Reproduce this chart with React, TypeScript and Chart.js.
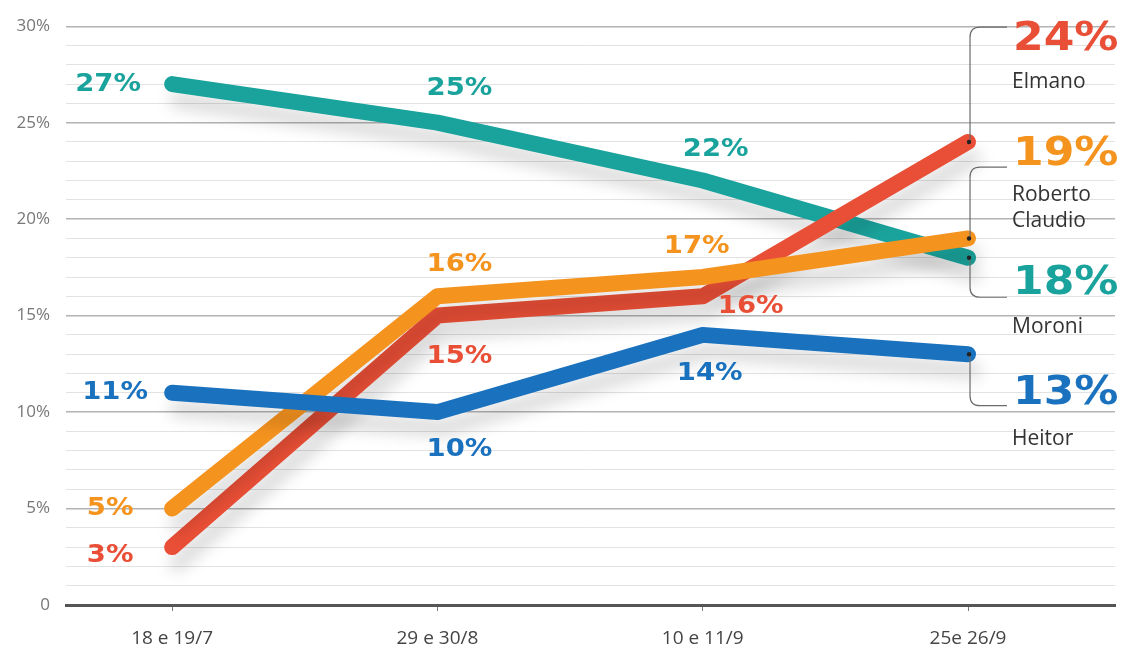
import React, { useEffect, useRef } from "react";
import { Chart, registerables } from "chart.js";

Chart.register(...registerables);

const categories = ["18 e 19/7", "29 e 30/8", "10 e 11/9", "25e 26/9"];
const moroni = [27, 25, 22, 18];
const elmano = [3, 15, 16, 24];
const roberto = [5, 16, 17, 19];
const heitor = [11, 10, 14, 13];
const yTickValues = [0, 5, 10, 15, 20, 25, 30];

const TEAL = "#1aa39c";
const RED = "#e94f36";
const ORANGE = "#f5931f";
const BLUE = "#1a72bf";

const series = [
  {
    name: ["Elmano"],
    data: elmano,
    color: RED,
    order: 2,
    offsets: [[-62, 8], [22, 41], [48, 10], null],
    callout: { conn: 29.95, big: 29.27, names: [27.1] },
  },
  {
    name: ["Roberto", "Claudio"],
    data: roberto,
    color: ORANGE,
    order: 1,
    offsets: [[-62, 0], [22, -32], [-6, -31], null],
    callout: { conn: 22.7, big: 23.34, names: [21.27, 19.88] },
  },
  {
    name: ["Moroni"],
    data: moroni,
    color: TEAL,
    order: 3,
    offsets: [[-64, 0], [22, -34], [13, -31], null],
    callout: { conn: 15.95, big: 16.62, names: [14.4] },
  },
  {
    name: ["Heitor"],
    data: heitor,
    color: BLUE,
    order: 0,
    offsets: [[-57, 0], [22, 37], [7, 39], null],
    callout: { conn: 10.33, big: 10.94, names: [8.62] },
  },
];

function drawText(
  c: CanvasRenderingContext2D,
  s: string,
  x: number,
  y: number,
  font: string,
  color: string,
  sx: number,
  align: CanvasTextAlign
) {
  c.save();
  c.translate(x, y);
  c.scale(sx, 1);
  c.font = font;
  c.fillStyle = color;
  c.textAlign = align;
  c.textBaseline = "middle";
  c.fillText(s, 0, 0);
  c.restore();
}

const annotPlugin = {
  id: "annot",
  beforeDatasetsDraw(chart: any) {
    const c = chart.ctx;
    c.save();
    c.shadowColor = "rgba(0,0,0,0.15)";
    c.shadowBlur = 16;
    c.shadowOffsetX = 5;
    c.shadowOffsetY = 16;
  },
  afterDatasetsDraw(chart: any) {
    const c: CanvasRenderingContext2D = chart.ctx;
    c.restore();
    const xs = chart.scales.x;
    const ys = chart.scales.y;
    const labelFont = 'bold 25px "DejaVu Sans"';
    const bigFont = 'bold 39px "DejaVu Sans"';
    const nameFont = '21px "Open Sans"';
    series.forEach((s) => {
      s.data.forEach((v, i) => {
        const off = s.offsets[i];
        if (!off) return;
        const px = xs.getPixelForValue(i);
        const py = ys.getPixelForValue(v);
        drawText(c, v + "%", px + off[0], py + off[1], labelFont, s.color, 1.1, "center");
      });
      const last = s.data.length - 1;
      const x0 = xs.getPixelForValue(last) + 2;
      const y0 = ys.getPixelForValue(s.data[last]);
      const yc = ys.getPixelForValue(s.callout.conn);
      const r = 10;
      const dir = yc < y0 ? 1 : -1;
      c.save();
      c.strokeStyle = "#6b6b6b";
      c.lineWidth = 1.2;
      c.beginPath();
      c.moveTo(x0, y0);
      c.lineTo(x0, yc + dir * r);
      c.quadraticCurveTo(x0, yc, x0 + r, yc);
      c.lineTo(x0 + 37, yc);
      c.stroke();
      c.fillStyle = "#222";
      c.beginPath();
      c.arc(x0 - 1, y0, 2.2, 0, Math.PI * 2);
      c.fill();
      c.restore();
      const lx = xs.getPixelForValue(last) + 45;
      drawText(c, s.data[last] + "%", lx, ys.getPixelForValue(s.callout.big), bigFont, s.color, 1.13, "left");
      s.name.forEach((n, k) => {
        drawText(c, n, lx - 1, ys.getPixelForValue(s.callout.names[k]), nameFont, "#333", 1, "left");
      });
    });
  },
};

export default function App() {
  const ref = useRef<HTMLCanvasElement>(null);
  useEffect(() => {
    document.body.style.margin = "0";
    const canvas = ref.current!;
    const chart = new Chart(canvas, {
      type: "line",
      data: {
        datasets: series.map((s) => ({
          label: s.name.join(" "),
          data: s.data.map((v, i) => ({ x: i, y: v })),
          borderColor: s.color,
          backgroundColor: s.color,
          borderWidth: 16,
          borderCapStyle: "round" as const,
          borderJoinStyle: "round" as const,
          pointRadius: 0,
          tension: 0,
          order: s.order,
          clip: false as any,
        })),
      },
      options: {
        responsive: false,
        animation: false,
        layout: { padding: { top: 24, right: 13, left: 0, bottom: 0 } },
        plugins: {
          legend: { display: false },
          tooltip: { enabled: false },
        },
        scales: {
          x: {
            type: "linear",
            min: -0.4,
            max: 3.554,
            afterFit: (s: any) => {
              s.height = 52;
            },
            ticks: {
              stepSize: 1,
              includeBounds: false,
              autoSkip: false,
              maxRotation: 0,
              padding: 16,
              color: "#444",
              font: { family: '"Open Sans"', size: 19 },
              callback: (v: any) => categories[v as number] ?? "",
            },
            grid: {
              drawOnChartArea: false,
              drawTicks: true,
              tickLength: 6,
              color: "#777",
              lineWidth: 1,
            },
            border: { display: true, color: "#555", width: 3 },
          },
          y: {
            type: "linear",
            min: 0,
            max: 30,
            afterFit: (s: any) => {
              s.width = 66;
            },
            ticks: {
              stepSize: 1,
              autoSkip: false,
              padding: 16,
              color: "#777",
              font: { family: '"Open Sans"', size: 17 },
              callback: (v: any) =>
                yTickValues.includes(v as number) ? (v === 0 ? "0" : v + "%") : "",
            },
            grid: {
              drawTicks: false,
              color: (ctx: any) => (ctx.tick && ctx.tick.value % 5 === 0 ? "#b3b3b3" : "#e2e2e2"),
              lineWidth: (ctx: any) => (ctx.tick && ctx.tick.value % 5 === 0 ? 1.4 : 1),
            },
            border: { display: false },
          },
        },
      },
      plugins: [annotPlugin],
    });
    return () => chart.destroy();
  }, []);
  return (
    <div style={{ width: 1128, height: 657, background: "#fff" }}>
      <canvas ref={ref} width={1128} height={657} />
    </div>
  );
}
